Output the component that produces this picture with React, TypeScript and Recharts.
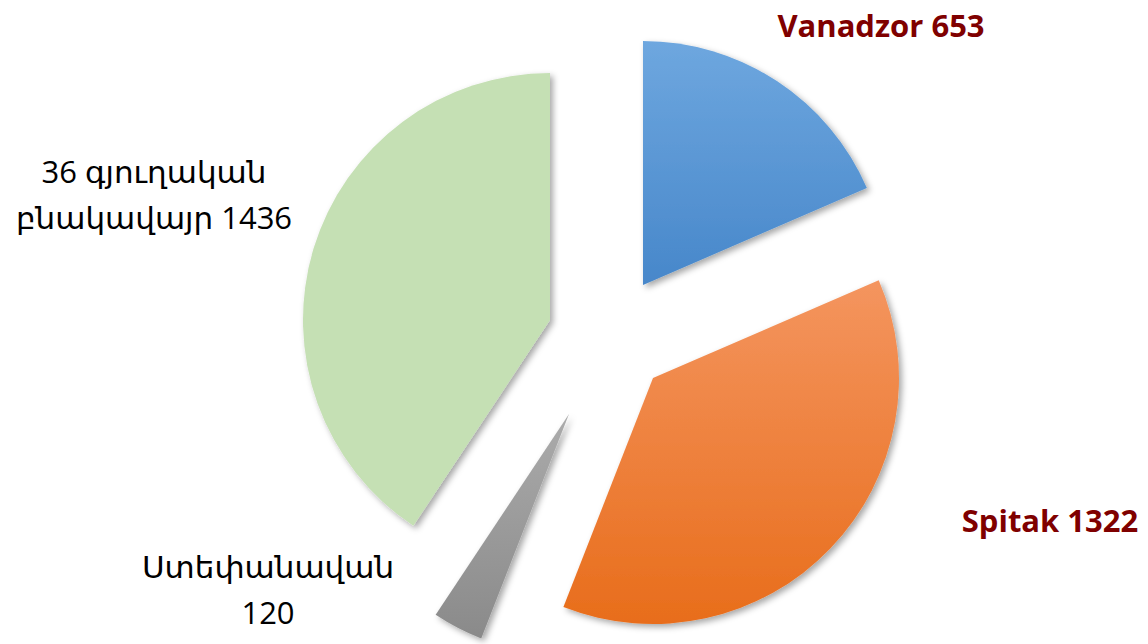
import { PieChart, Pie, Cell } from "recharts";

const places = ["Vanadzor", "Spitak", "Ստեփանավան", "36 գյուղական բնակավայր"];
const counts = [653, 1322, 120, 1436];

const data = places.map((name, i) => ({ name, value: counts[i] }));

const fills = ["url(#gBlue)", "url(#gOrange)", "url(#gGray)", "#c5e0b4"];

// apex of every exploded slice (each slice is its own pie); chart margin is 5px
const apexes = [
  { cx: 638, cy: 280, r: 244 },
  { cx: 648, cy: 373, r: 246 },
  { cx: 564, cy: 409, r: 241 },
  { cx: 545, cy: 315, r: 247 },
];

const labelStyles: React.CSSProperties[] = [
  { left: 881, top: 25, color: "#7f0000", fontWeight: 700 },
  { left: 1050, top: 520, color: "#7f0000", fontWeight: 700 },
  { left: 268, top: 589, color: "#000" },
  { left: 154, top: 194, color: "#000" },
];

const labelLines = [
  [`${places[0]} ${counts[0]}`],
  [`${places[1]} ${counts[1]}`],
  [places[2], `${counts[2]}`],
  ["36 գյուղական", `բնակավայր ${counts[3]}`],
];

export default function App() {
  return (
    <div style={{ position: "absolute", left: 0, top: 0, width: 1148, height: 644, background: "#fff" }}>
      <PieChart width={1148} height={644}>
        <defs>
          <linearGradient id="gBlue" x1="0" y1="0" x2="0" y2="1">
            <stop offset="0%" stopColor="#6ea7df" />
            <stop offset="100%" stopColor="#4787ca" />
          </linearGradient>
          <linearGradient id="gOrange" x1="0" y1="0" x2="0" y2="1">
            <stop offset="0%" stopColor="#f4955f" />
            <stop offset="100%" stopColor="#e86d1b" />
          </linearGradient>
          <linearGradient id="gGray" x1="0" y1="0" x2="0" y2="1">
            <stop offset="0%" stopColor="#ababab" />
            <stop offset="100%" stopColor="#8a8a8a" />
          </linearGradient>
          <filter id="shadow" x="-20%" y="-20%" width="140%" height="140%">
            <feDropShadow dx="3" dy="3" stdDeviation="3" floodColor="#000" floodOpacity="0.35" />
          </filter>
        </defs>
        {apexes.map((a, i) => (
          <Pie
            key={i}
            data={data}
            dataKey="value"
            nameKey="name"
            cx={a.cx}
            cy={a.cy}
            innerRadius={0}
            outerRadius={a.r}
            startAngle={90}
            endAngle={-270}
            stroke="none"
            isAnimationActive={false}
          >
            {data.map((d, j) => (
              <Cell
                key={d.name}
                fill={j === i ? fills[i] : "none"}
                style={j === i ? { filter: "url(#shadow)" } : undefined}
              />
            ))}
          </Pie>
        ))}
      </PieChart>
      {labelLines.map((lines, i) => (
        <div
          key={i}
          style={{
            position: "absolute",
            transform: "translate(-50%, -50%)",
            whiteSpace: "nowrap",
            textAlign: "center",
            fontFamily: "'Open Sans', 'DejaVu Sans', sans-serif",
            fontSize: 31,
            lineHeight: "46px",
            ...labelStyles[i],
          }}
        >
          {lines.map((l) => (
            <div key={l}>{l}</div>
          ))}
        </div>
      ))}
    </div>
  );
}
